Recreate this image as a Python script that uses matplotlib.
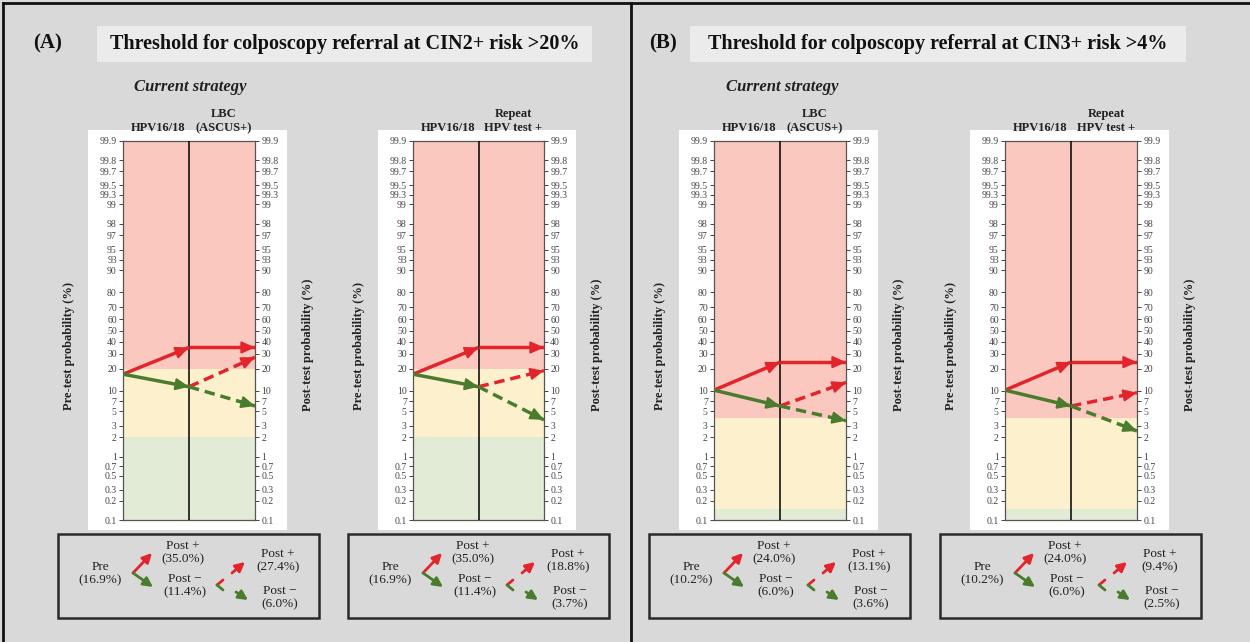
import matplotlib.pyplot as plt
import matplotlib.patches as mpatches
from matplotlib.ticker import NullLocator, NullFormatter
import numpy as np

plt.rcParams['font.family'] = ['Liberation Serif', 'DejaVu Serif']

W, H = 1250, 642

# ---- data (probabilities in %) ----
pre_prob = [16.9, 16.9, 10.2, 10.2]
post1_pos = [35.0, 35.0, 24.0, 24.0]
post1_neg = [11.4, 11.4, 6.0, 6.0]
post2_pos = [27.4, 18.8, 13.1, 9.4]
post2_neg = [6.0, 3.7, 3.6, 2.5]
red_threshold = [20, 20, 4, 4]
green_threshold = [2, 2, 0.15, 0.15]
test1_labels = ['HPV16/18', 'HPV16/18', 'HPV16/18', 'HPV16/18']
test2_labels = ['LBC\n(ASCUS+)', 'Repeat\nHPV test +', 'LBC\n(ASCUS+)', 'Repeat\nHPV test +']
tick_vals = [0.1, 0.2, 0.3, 0.5, 0.7, 1, 2, 3, 5, 7, 10, 20, 30, 40, 50, 60, 70,
             80, 90, 93, 95, 97, 98, 99, 99.3, 99.5, 99.7, 99.8, 99.9]
panel_letters = ['(A)', '(B)']
panel_titles = ['Threshold for colposcopy referral at CIN2+ risk >20%',
                'Threshold for colposcopy referral at CIN3+ risk >4%']

# ---- style ----
BG = '#d9d9d9'
RED_ZONE = '#fbc8bf'
YEL_ZONE = '#fdf0cc'
GRN_ZONE = '#e1ebd6'
RED = '#e2242c'
GREEN = '#4a7c2e'
DASH = (0, (3.0, 1.7))
INK = '#222222'

fig = plt.figure(figsize=(W / 100, H / 100), dpi=100, facecolor=BG)


def fx(x):
    return x / W


def fy(y):
    return 1 - y / H


def rect(x0, y0, x1, y1, **kw):
    fig.patches.append(mpatches.Rectangle((fx(x0), fy(y1)), (x1 - x0) / W, (y1 - y0) / H,
                                          transform=fig.transFigure, **kw))


def between(p0, p1, t):
    # point a fraction t along a straight line on the logit axis
    l0, l1 = np.log(p0 / (1 - p0)), np.log(p1 / (1 - p1))
    l = l0 + t * (l1 - l0)
    return 1 / (1 + np.exp(-l))


def arrow(ax, x0, p0, x1, p1, color, dashed=False):
    p0, p1 = p0 / 100, p1 / 100
    ls = DASH if dashed else '-'
    ax.plot([x0, x1], [p0, p1], color=color, lw=2.5, ls=ls, zorder=4,
            solid_capstyle='butt')
    xs = x0 + 0.86 * (x1 - x0)
    ax.annotate('', xy=(x1, p1), xytext=(xs, between(p0, p1, 0.86)),
                arrowprops=dict(arrowstyle='-|>,head_length=0.8,head_width=0.36',
                                color=color, lw=1.5, shrinkA=0, shrinkB=0), zorder=5)


def fig_arrow(xa, ya, xb, yb, color, dashed=False, head=True):
    style = '-|>,head_length=0.55,head_width=0.28' if head else '-'
    fig.add_artist(mpatches.FancyArrowPatch((fx(xa), fy(ya)), (fx(xb), fy(yb)),
                                            transform=fig.transFigure, arrowstyle=style,
                                            color=color, lw=2.0,
                                            linestyle='--' if dashed else '-',
                                            shrinkA=0, shrinkB=0, mutation_scale=10))


def nomogram(i, x0, x1, y0=141, y1=520):
    rect(x0 - 35, y0 - 11, x1 + 32, y1 + 10, facecolor='white', edgecolor='none', zorder=-5)
    ax = fig.add_axes([fx(x0), fy(y1), fx(x1 - x0), (y1 - y0) / H])
    ax.set_yscale('logit')
    ax.set_xlim(0, 2)
    ax.set_ylim(0.001, 0.999)
    ax.axhspan(red_threshold[i] / 100, 0.999, color=RED_ZONE, lw=0, zorder=0)
    ax.axhspan(green_threshold[i] / 100, red_threshold[i] / 100, color=YEL_ZONE, lw=0, zorder=0)
    ax.axhspan(0.001, green_threshold[i] / 100, color=GRN_ZONE, lw=0, zorder=0)
    ax.axvline(1, color='black', lw=1.1, zorder=3)

    ax.set_xticks([])
    ax.set_yticks([v / 100 for v in tick_vals])
    ax.set_yticklabels(['%g' % v for v in tick_vals])
    ax.yaxis.set_minor_locator(NullLocator())
    ax.yaxis.set_minor_formatter(NullFormatter())
    ax.tick_params(axis='y', left=True, right=True, labelleft=True, labelright=True,
                   labelsize=7, length=3, width=0.7, pad=1.5, colors='#444444')
    for s in ax.spines.values():
        s.set_color('#555555')
        s.set_linewidth(0.9)

    arrow(ax, 0, pre_prob[i], 1, post1_pos[i], RED)
    arrow(ax, 1, post1_pos[i], 2, post1_pos[i], RED)
    arrow(ax, 0, pre_prob[i], 1, post1_neg[i], GREEN)
    arrow(ax, 1, post1_neg[i], 2, post2_pos[i], RED, dashed=True)
    arrow(ax, 1, post1_neg[i], 2, post2_neg[i], GREEN, dashed=True)

    # column headers
    xm = (x0 + x1) / 2
    fig.text(fx((x0 + xm) / 2 + 2), fy(131), test1_labels[i], ha='center', va='baseline',
             fontsize=9, fontweight='bold', color=INK)
    fig.text(fx((xm + x1) / 2 + 2), fy(131), test2_labels[i], ha='center', va='baseline',
             fontsize=9, fontweight='bold', color=INK, linespacing=1.25)
    # side labels
    fig.text(fx(x0 - 54), fy(346), 'Pre-test probability (%)', rotation=90,
             ha='center', va='center', fontsize=9, fontweight='bold', color=INK)
    fig.text(fx(x1 + 53), fy(345), 'Post-test probability (%)', rotation=90,
             ha='center', va='center', fontsize=9, fontweight='bold', color=INK)

    # summary box below
    bx0 = x0 - 65
    rect(bx0, 534, bx0 + 261, 618, facecolor='none', edgecolor='#2a2a2a', lw=1.8, zorder=2)
    tkw = dict(ha='center', va='center', fontsize=9.5, color=INK, linespacing=1.15)
    fig.text(fx(bx0 + 42), fy(574), 'Pre\n(%.1f%%)' % pre_prob[i], **tkw)
    fig.text(fx(bx0 + 125), fy(553), 'Post +\n(%.1f%%)' % post1_pos[i], **tkw)
    fig.text(fx(bx0 + 127), fy(586), 'Post \u2212\n(%.1f%%)' % post1_neg[i], **tkw)
    fig.text(fx(bx0 + 220), fy(561), 'Post +\n(%.1f%%)' % post2_pos[i], **tkw)
    fig.text(fx(bx0 + 222), fy(598), 'Post \u2212\n(%.1f%%)' % post2_neg[i], **tkw)
    fig_arrow(bx0 + 75, 573, bx0 + 94, 553, RED)
    fig_arrow(bx0 + 75, 573, bx0 + 95, 587, GREEN)
    fig_arrow(bx0 + 165, 580, bx0 + 159, 585, RED, head=False)
    fig_arrow(bx0 + 159, 585, bx0 + 165, 590, GREEN, head=False)
    fig_arrow(bx0 + 174, 573, bx0 + 187, 562, RED)
    fig_arrow(bx0 + 178, 592, bx0 + 190, 600, GREEN)


nomogram(0, 123, 255)
nomogram(1, 413, 544)
nomogram(2, 714, 846)
nomogram(3, 1005, 1137)

# "Current strategy" labels
for xc in [190, 782]:
    fig.text(fx(xc), fy(87), 'Current strategy', ha='center', va='center',
             fontsize=12, fontweight='bold', style='italic', color=INK)

# panel letters and titles
for k, (xl, bx0, bx1) in enumerate([(48, 97, 592), (663, 690, 1186)]):
    fig.text(fx(xl), fy(43), panel_letters[k], ha='center', va='center',
             fontsize=15, fontweight='bold', color='#111111')
    rect(bx0, 26, bx1, 62, facecolor='#ebebeb', edgecolor='none', zorder=1)
    fig.text(fx((bx0 + bx1) / 2), fy(44), panel_titles[k], ha='center', va='center',
             fontsize=14.5, fontweight='bold', color='#111111', zorder=3)

# frame lines
fig.add_artist(plt.Line2D([fx(3), fx(3)], [fy(3), fy(642)], transform=fig.transFigure,
                          color='#111111', lw=2))
fig.add_artist(plt.Line2D([fx(3), fx(1250)], [fy(3), fy(3)], transform=fig.transFigure,
                          color='#111111', lw=2))
fig.add_artist(plt.Line2D([fx(631), fx(631)], [fy(3), fy(642)], transform=fig.transFigure,
                          color='#111111', lw=2))

fig.savefig('out.png', dpi=100, facecolor=BG)
